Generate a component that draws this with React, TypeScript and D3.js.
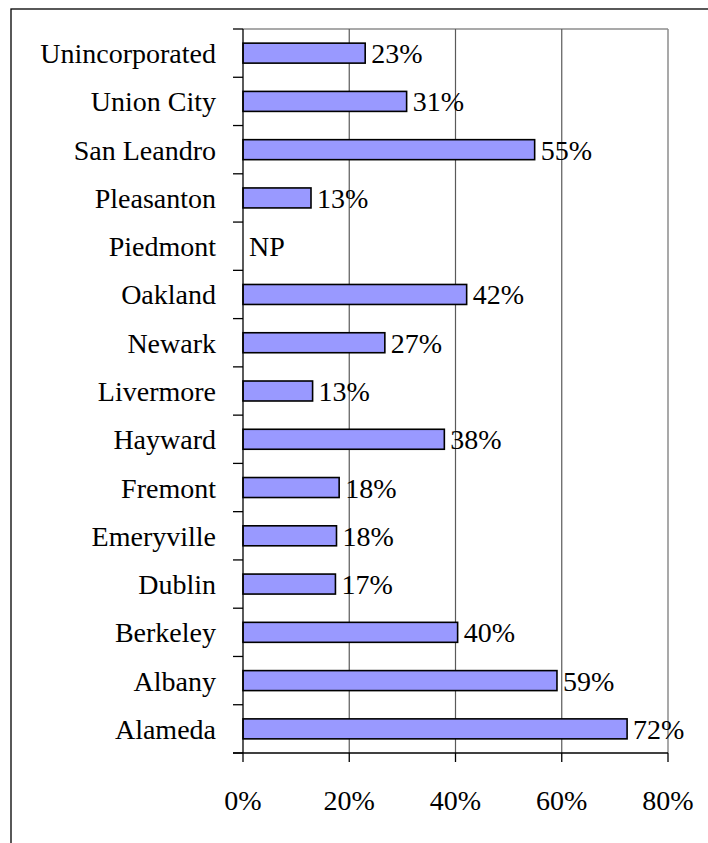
import React from "react";
import * as d3 from "d3";

const categories = [
  "Unincorporated",
  "Union City",
  "San Leandro",
  "Pleasanton",
  "Piedmont",
  "Oakland",
  "Newark",
  "Livermore",
  "Hayward",
  "Fremont",
  "Emeryville",
  "Dublin",
  "Berkeley",
  "Albany",
  "Alameda",
];
const values: (number | null)[] = [
  23.0, 30.8, 54.9, 12.8, null, 42.1, 26.7, 13.1, 37.9, 18.1, 17.6, 17.4, 40.4, 59.1, 72.3,
];
const xTicks = [0, 20, 40, 60, 80];

const W = 708;
const H = 843;
const plot = { left: 243, right: 668, top: 29, bottom: 753 };
const FONT = "Liberation Serif, Tinos, DejaVu Serif, serif";

export default function App() {
  const x = d3.scaleLinear().domain([0, 80]).range([plot.left, plot.right]);
  const y = d3
    .scaleBand<string>()
    .domain(categories)
    .range([plot.top, plot.bottom])
    .padding(0);
  const step = y.step();
  const barH = step * 0.414;
  const boundaries = d3.range(categories.length + 1).map((i) => plot.top + i * step);
  const textStyle = { fontFamily: FONT, fontSize: "28px" };

  return (
    <div style={{ position: "absolute", left: 0, top: 0 }}>
      <svg width={W} height={H} style={{ display: "block" }}>
        <rect x={0} y={0} width={W} height={H} fill="#fff" />
        {/* outer frame */}
        <rect x={11} y={9} width={720} height={860} fill="none" stroke="#000" strokeWidth={1.3} />
        {/* plot border top/right */}
        <line x1={plot.left} x2={plot.right} y1={plot.top} y2={plot.top} stroke="#8c8c8c" strokeWidth={1.5} />
        <line x1={plot.right} x2={plot.right} y1={plot.top} y2={plot.bottom} stroke="#8c8c8c" strokeWidth={1.5} />
        {/* gridlines */}
        {xTicks.slice(1, -1).map((t) => (
          <line key={t} x1={x(t)} x2={x(t)} y1={plot.top} y2={plot.bottom} stroke="#5a5a5a" strokeWidth={1.2} />
        ))}
        {/* bars */}
        {categories.map((c, i) => {
          const v = values[i];
          const cy = (y(c) as number) + step / 2;
          if (v === null) return null;
          return (
            <rect
              key={c}
              x={x(0)}
              y={cy - barH / 2}
              width={x(v) - x(0)}
              height={barH}
              fill="#9999FF"
              stroke="#000"
              strokeWidth={1.6}
            />
          );
        })}
        {/* axes */}
        <line x1={plot.left} x2={plot.left} y1={plot.top} y2={plot.bottom} stroke="#000" strokeWidth={1.3} />
        <line x1={plot.left - 10} x2={plot.right} y1={plot.bottom} y2={plot.bottom} stroke="#000" strokeWidth={1.3} />
        {boundaries.map((b, i) => (
          <line key={i} x1={plot.left - 10} x2={plot.left} y1={b} y2={b} stroke="#000" strokeWidth={1.3} />
        ))}
        {xTicks.map((t) => (
          <line key={t} x1={x(t)} x2={x(t)} y1={plot.bottom} y2={plot.bottom + 9} stroke="#000" strokeWidth={1.3} />
        ))}
        {/* category labels */}
        {categories.map((c) => (
          <text
            key={c}
            x={216}
            y={(y(c) as number) + step / 2 + 10}
            textAnchor="end"
            style={textStyle}
            fill="#000"
          >
            {c}
          </text>
        ))}
        {/* value labels */}
        {categories.map((c, i) => {
          const v = values[i];
          const cy = (y(c) as number) + step / 2 + 10;
          return (
            <text key={c} x={x(v === null ? 0 : v) + 6} y={cy} style={textStyle} fill="#000">
              {v === null ? "NP" : `${Math.round(v)}%`}
            </text>
          );
        })}
        {/* x tick labels */}
        {xTicks.map((t) => (
          <text key={t} x={x(t)} y={810} textAnchor="middle" style={textStyle} fill="#000">
            {`${t}%`}
          </text>
        ))}
      </svg>
    </div>
  );
}
